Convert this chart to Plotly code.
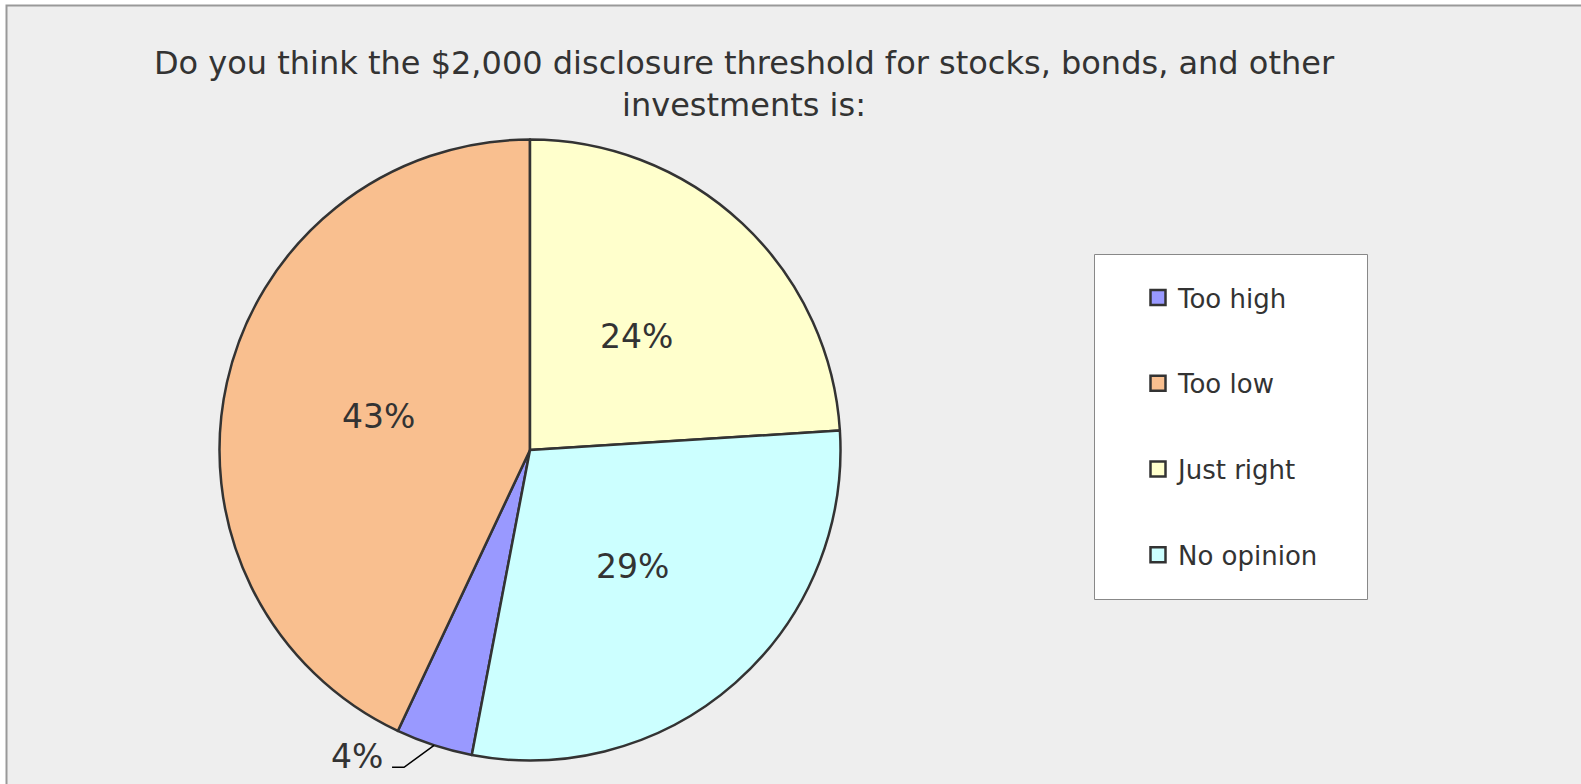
import math
import plotly.graph_objects as go

# ---- data ----
labels = ["Too high", "Too low", "Just right", "No opinion"]
values = [4, 43, 24, 29]
colors = ["#9999FF", "#F9BF8F", "#FFFFCC", "#CCFFFF"]
title_text = "Do you think the $2,000 disclosure threshold for stocks, bonds, and other<br>investments is:"

# ---- layout constants (page pixels) ----
W, H = 1581, 784
FONT = "DejaVu Sans"
TXT = "#333333"
CX, CY, R = 530, 450, 310.5


def px(x):
    return x / W


def py(y):
    return 1 - y / H


total = sum(values)
pcts = [f"{round(100 * v / total)}%" for v in values]
# slices run clockwise; "Just right" and "No opinion" come first from 12 o'clock
rotation = 360 * (values[2] + values[3]) / total

fig = go.Figure()
fig.add_trace(go.Pie(
    labels=labels,
    values=values,
    sort=False,
    direction="clockwise",
    rotation=rotation,
    marker=dict(colors=colors, line=dict(color="#333333", width=2.5)),
    textinfo="none",
    domain=dict(x=[px(CX - R), px(CX + R)], y=[py(CY + R), py(CY - R)]),
    showlegend=False,
))

# legend entries (one per category, each its own group so they can be spaced)
for lab, col in zip(labels, colors):
    fig.add_trace(go.Scatter(
        x=[None], y=[None], mode="markers", name=lab, legendgroup=lab,
        marker=dict(symbol="square", size=15, color=col,
                    line=dict(color="#333333", width=2.5)),
        hoverinfo="skip",
    ))

# slice mid angles (clockwise from 12 o'clock)
mids = []
start = rotation
for v in values:
    span = 360 * v / total
    mids.append(math.radians(start + span / 2))
    start += span

annotations = []
for i in range(1, len(values)):
    th = mids[i]
    lx = CX + 0.5 * R * math.sin(th)
    ly = CY - 0.5 * R * math.cos(th)
    annotations.append(dict(text=pcts[i], xref="paper", yref="paper",
                            x=px(lx), y=py(ly), xanchor="center", yanchor="middle",
                            showarrow=False, font=dict(family=FONT, size=33, color=TXT)))

# outside label for the small slice, with leader line derived from its angle
th = mids[0]
p0x = CX + R * math.sin(th)
p0y = CY - R * math.cos(th)
elx, ely = p0x - 30, p0y + 22
endx, endy = elx - 12, ely
annotations.append(dict(text=pcts[0], xref="paper", yref="paper",
                        x=px(endx - 7), y=py(ely - 11), xanchor="right", yanchor="middle",
                        showarrow=False, font=dict(family=FONT, size=33, color=TXT)))

shapes = [
    # chart area frame
    dict(type="rect", xref="paper", yref="paper", layer="below",
         x0=px(6.5), x1=1.05, y0=-0.05, y1=py(5.5),
         fillcolor="#EEEEEE", line=dict(color="#999999", width=2)),
    # legend box
    dict(type="rect", xref="paper", yref="paper", layer="below",
         x0=px(1094.5), x1=px(1367.5), y0=py(599.5), y1=py(254.5),
         fillcolor="#FFFFFF", line=dict(color="#888888", width=1)),
    # leader line
    dict(type="path", xref="paper", yref="paper",
         path=f"M {px(p0x)},{py(p0y)} L {px(elx)},{py(ely)} L {px(endx)},{py(endy)}",
         line=dict(color="#000000", width=1.5)),
]

fig.update_layout(
    width=W, height=H,
    margin=dict(l=0, r=0, t=0, b=0),
    paper_bgcolor="#FFFFFF",
    plot_bgcolor="rgba(0,0,0,0)",
    font=dict(family=FONT, color=TXT),
    xaxis=dict(visible=False),
    yaxis=dict(visible=False),
    title=dict(text=title_text, x=px(744), xanchor="center",
               y=py(74), yanchor="top", xref="paper", yref="paper",
               font=dict(family=FONT, size=32, color=TXT)),
    legend=dict(x=px(1138), y=py(274), xanchor="left", yanchor="top",
                bgcolor="rgba(0,0,0,0)", borderwidth=0,
                traceorder="grouped", tracegroupgap=49,
                font=dict(family=FONT, size=26, color=TXT)),
    shapes=shapes,
    annotations=annotations,
)

fig.write_html("out.html", config={"displayModeBar": False},
               post_script="document.body.style.margin='0';document.documentElement.style.overflow='hidden';")
